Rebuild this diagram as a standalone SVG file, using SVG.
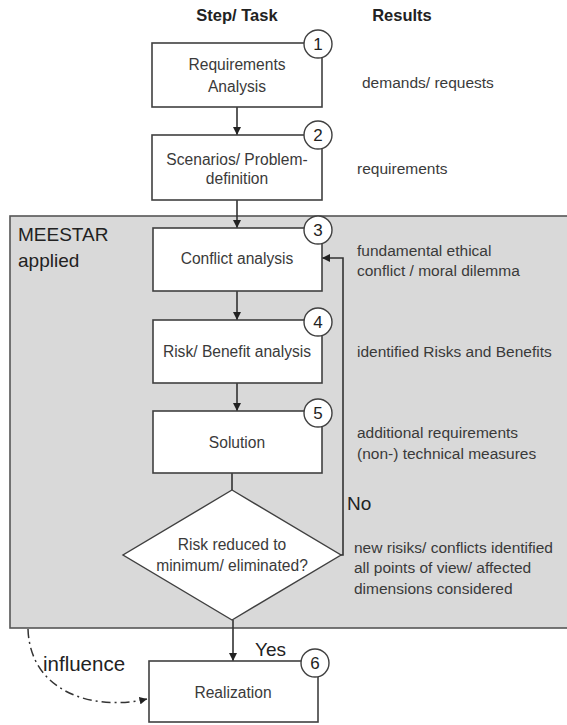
<svg xmlns="http://www.w3.org/2000/svg" width="567" height="725" viewBox="0 0 567 725">
  <style>
    .box { fill: #fff; stroke: #404040; stroke-width: 1.6; }
    .num { fill: #fff; stroke: #404040; stroke-width: 1.4; }
    .t { font-family: "Liberation Sans", Arial, sans-serif; font-size: 15.6px; fill: #3a3a3a; text-anchor: middle; }
    .n { font-family: "Liberation Sans", Arial, sans-serif; font-size: 17px; fill: #222; text-anchor: middle; }
    .r { font-family: "Liberation Sans", Arial, sans-serif; font-size: 15.5px; fill: #3a3a3a; }
    .h { font-family: "Liberation Sans", Arial, sans-serif; font-size: 16.5px; font-weight: bold; fill: #222; text-anchor: middle; }
    .big { font-family: "Liberation Sans", Arial, sans-serif; font-size: 19px; fill: #222; }
    .ln { fill: none; stroke: #333; stroke-width: 1.6; }
  </style>
  <defs>
    <marker id="arr" viewBox="0 0 10 10" refX="10" refY="5" markerWidth="5" markerHeight="5" orient="auto" markerUnits="strokeWidth">
      <path d="M0,0 L10,5 L0,10 z" fill="#222"/>
    </marker>
  </defs>

  <rect width="567" height="725" fill="#fff"/>

  <!-- headers -->
  <text class="h" x="237" y="21">Step/ Task</text>
  <text class="h" x="402" y="21">Results</text>

  <!-- MEESTAR region -->
  <g id="meestar">
    <rect x="10" y="216" width="560" height="412" fill="#d9d9d9" stroke="#555" stroke-width="1.6"/>
    <text class="big" x="18" y="241">MEESTAR</text>
    <text class="big" x="18" y="267">applied</text>
  </g>

  <!-- connectors -->
  <g id="connectors">
    <line class="ln" x1="237" y1="107" x2="237" y2="135" marker-end="url(#arr)"/>
    <line class="ln" x1="237" y1="200" x2="237" y2="228" marker-end="url(#arr)"/>
    <line class="ln" x1="237" y1="291" x2="237" y2="320" marker-end="url(#arr)"/>
    <line class="ln" x1="237" y1="383" x2="237" y2="411" marker-end="url(#arr)"/>
    <line class="ln" x1="232" y1="473" x2="232" y2="490"/>
    <line class="ln" x1="233" y1="620" x2="233" y2="661" marker-end="url(#arr)"/>
    <polyline class="ln" points="341,555 343,555 343,258 322,258" marker-end="url(#arr)"/>
    <path d="M28,629 C30,690 90,712 147,699" fill="none" stroke="#333" stroke-width="1.5" stroke-dasharray="9,4,2,4" marker-end="url(#arr)"/>
    <text class="big" x="347" y="510">No</text>
    <text class="big" x="255" y="656">Yes</text>
    <text class="big" x="43" y="671" style="font-size:20.5px">influence</text>
  </g>

  <!-- step 1 -->
  <g id="step1">
    <rect class="box" x="152" y="43" width="170" height="64"/>
    <text class="t" x="237" y="70">Requirements</text>
    <text class="t" x="237" y="92">Analysis</text>
    <circle class="num" cx="318" cy="44" r="14"/>
    <text class="n" x="318" y="50">1</text>
  </g>

  <!-- step 2 -->
  <g id="step2">
    <rect class="box" x="152" y="135" width="170" height="65"/>
    <text class="t" x="237" y="165">Scenarios/ Problem-</text>
    <text class="t" x="237" y="184">definition</text>
    <circle class="num" cx="318" cy="135" r="14"/>
    <text class="n" x="318" y="141">2</text>
  </g>

  <!-- step 3 -->
  <g id="step3">
    <rect class="box" x="153" y="228" width="169" height="63"/>
    <text class="t" x="237" y="264">Conflict analysis</text>
    <circle class="num" cx="318" cy="230" r="14"/>
    <text class="n" x="318" y="236">3</text>
  </g>

  <!-- step 4 -->
  <g id="step4">
    <rect class="box" x="153" y="320" width="169" height="63"/>
    <text class="t" x="237" y="357">Risk/ Benefit analysis</text>
    <circle class="num" cx="318" cy="322" r="14"/>
    <text class="n" x="318" y="328">4</text>
  </g>

  <!-- step 5 -->
  <g id="step5">
    <rect class="box" x="153" y="411" width="169" height="62"/>
    <text class="t" x="237" y="448">Solution</text>
    <circle class="num" cx="318" cy="413" r="14"/>
    <text class="n" x="318" y="419">5</text>
  </g>

  <!-- decision -->
  <g id="decision">
    <polygon points="232,490 341,555 232,620 123,555" fill="#fff" stroke="#404040" stroke-width="1.4"/>
    <text class="t" x="232" y="550">Risk reduced to</text>
    <text class="t" x="232" y="571">minimum/ eliminated?</text>
  </g>

  <!-- step 6 -->
  <g id="step6">
    <rect class="box" x="149" y="661" width="169" height="61"/>
    <text class="t" x="233" y="698">Realization</text>
    <circle class="num" cx="315" cy="663" r="14"/>
    <text class="n" x="315" y="669">6</text>
  </g>

  <!-- results column -->
  <g id="results">
    <text class="r" x="362" y="88">demands/ requests</text>
    <text class="r" x="357" y="174">requirements</text>
    <text class="r" x="357" y="256">fundamental ethical</text>
    <text class="r" x="357" y="276">conflict / moral dilemma</text>
    <text class="r" x="357" y="357">identified Risks and Benefits</text>
    <text class="r" x="357" y="438">additional requirements</text>
    <text class="r" x="357" y="459">(non-) technical measures</text>
    <text class="r" x="354" y="553">new risiks/ conflicts identified</text>
    <text class="r" x="354" y="573">all points of view/ affected</text>
    <text class="r" x="354" y="594">dimensions considered</text>
  </g>
</svg>
